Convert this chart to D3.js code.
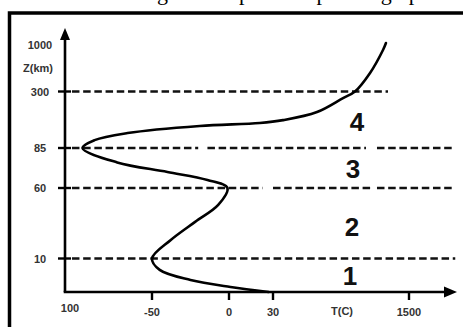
<!DOCTYPE html>
<html>
<head>
<meta charset="utf-8">
<script src="https://cdn.jsdelivr.net/npm/d3@7"></script>
<style>
	body { margin: 0; background: #fff; }
	svg { display: block; }
</style>
</head>
<body>
<svg id="chartSVG"></svg>
<script>
var svgDimensions = { width: 463, height: 327 };

// altitude axis (km) is drawn piecewise, so keep its ticks and positions together
var altTicks = [0, 10, 60, 85, 300, 1000];
var altLabels = ['', '10', '60', '85', '300', '1000'];
var tempTicks = [-100, -50, 0, 30, 1500];
var tempLabels = ['100', '-50', '0', '30', '1500'];

// temperature profile
var profileTemp = [27, 1, -25, -45, -50, -38, -22, -7, -1, -14, -40, -70, -90, -83, -64, -19, 21, 138, 506, 787, 916, 1079, 1219, 1251];
var profileAlt = [0, 1.5, 3.6, 6.6, 10, 23, 36, 48, 60, 65, 70, 76, 85, 115, 142, 169, 180, 191, 222, 275, 300, 579, 925, 1030];

// layer boundaries and the pieces of each dashed line
var boundaryAlt = [10, 60, 85, 300];
var boundarySegments = [
	[[-96, 2000]],
	[[-96, 23], [30, 1100], [1154, 2000]],
	[[-96, -20], [-14, 1035], [1154, 2000]],
	[[-96, 1273]]
];

var layerNames = ['1', '2', '3', '4'];
var layerTemp = [862, 884, 895, 938];
var layerAlt = [2.1, 26, 66, 150];

var svg = d3.select('#chartSVG')
	.attr('width', svgDimensions.width)
	.attr('height', svgDimensions.height);

var x = d3.scaleLinear()
	.domain(tempTicks)
	.range([65, 152, 229, 273, 409]);

var y = d3.scaleLinear()
	.domain(altTicks)
	.range([292, 258.5, 188, 148, 91.5, 45]);

// caption of the page above, only its descenders are in view
svg.append('text')
	.attr('x', 140)
	.attr('y', 0)
	.attr('font-family', 'Liberation Serif')
	.attr('font-size', '22px')
	.attr('fill', '#000')
	.text('ing the temperature profile graph');

// frame
svg.append('path')
	.attr('d', 'M9.5,' + svgDimensions.height + 'V13H' + svgDimensions.width)
	.attr('fill', 'none')
	.attr('stroke', '#000')
	.attr('stroke-width', 3.5);

// dashed layer boundaries
var bounds = svg.append('g').attr('id', 'bounds');
boundaryAlt.forEach(function(z, i) {
	boundarySegments[i].forEach(function(seg) {
		bounds.append('line')
			.attr('x1', x(seg[0]))
			.attr('x2', x(seg[1]))
			.attr('y1', y(z))
			.attr('y2', y(z))
			.attr('stroke', '#111')
			.attr('stroke-width', 2.4)
			.attr('stroke-dasharray', '7.5,3.7');
	});
});

// axes
var axisG = svg.append('g').attr('id', 'axes');
axisG.append('line')
	.attr('x1', x(-100)).attr('x2', x(-100))
	.attr('y1', y(0)).attr('y2', 38)
	.attr('stroke', '#000').attr('stroke-width', 2.6);
axisG.append('path')
	.attr('d', 'M' + x(-100) + ',28l-5,12h10z')
	.attr('fill', '#000');
axisG.append('line')
	.attr('x1', x(-100) - 1.3).attr('x2', 446)
	.attr('y1', y(0)).attr('y2', y(0))
	.attr('stroke', '#000').attr('stroke-width', 2.6);
axisG.append('path')
	.attr('d', 'M457,' + y(0) + 'l-13,-5.5v11z')
	.attr('fill', '#000');

// y ticks
axisG.selectAll('.ytick')
	.data(boundaryAlt)
	.enter().append('line')
	.attr('class', 'ytick')
	.attr('x1', x(-100) - 7).attr('x2', x(-100) + 6)
	.attr('y1', function(d) { return y(d); })
	.attr('y2', function(d) { return y(d); })
	.attr('stroke', '#000').attr('stroke-width', 2.4);

axisG.selectAll('.ylabel')
	.data(altTicks.slice(1))
	.enter().append('text')
	.attr('class', 'ylabel')
	.attr('x', 40)
	.attr('y', function(d) { return y(d) + 4; })
	.attr('text-anchor', 'middle')
	.attr('font-family', 'Liberation Sans')
	.attr('font-weight', 'bold')
	.attr('font-size', '11px')
	.attr('fill', '#333')
	.text(function(d, i) { return altLabels[i + 1]; });

axisG.append('text')
	.attr('x', 38)
	.attr('y', 72)
	.attr('text-anchor', 'middle')
	.attr('font-family', 'Liberation Sans')
	.attr('font-weight', 'bold')
	.attr('font-size', '11px')
	.attr('fill', '#333')
	.text('Z(km)');

// x ticks
axisG.selectAll('.xtick')
	.data(tempTicks.slice(1))
	.enter().append('line')
	.attr('class', 'xtick')
	.attr('x1', function(d) { return x(d); })
	.attr('x2', function(d) { return x(d); })
	.attr('y1', y(0)).attr('y2', y(0) + 8)
	.attr('stroke', '#000').attr('stroke-width', 2.4);

axisG.selectAll('.xlabel')
	.data(tempTicks)
	.enter().append('text')
	.attr('class', 'xlabel')
	.attr('x', function(d, i) { return i === 0 ? x(d) + 5 : x(d); })
	.attr('y', function(d, i) { return i === 0 ? 312 : 316; })
	.attr('text-anchor', 'middle')
	.attr('font-family', 'Liberation Sans')
	.attr('font-weight', 'bold')
	.attr('font-size', '11px')
	.attr('fill', '#333')
	.text(function(d, i) { return tempLabels[i]; });

axisG.append('text')
	.attr('x', 342)
	.attr('y', 315)
	.attr('text-anchor', 'middle')
	.attr('font-family', 'Liberation Sans')
	.attr('font-weight', 'bold')
	.attr('font-size', '11px')
	.attr('fill', '#333')
	.text('T(C)');

// profile curve
var profile = profileTemp.map(function(t, i) { return [t, profileAlt[i]]; });
var line = d3.line()
	.x(function(d) { return x(d[0]); })
	.y(function(d) { return y(d[1]); })
	.curve(d3.curveCatmullRom.alpha(0.5));

svg.append('path')
	.datum(profile)
	.attr('d', line)
	.attr('fill', 'none')
	.attr('stroke', '#000')
	.attr('stroke-width', 2.6)
	.attr('stroke-linecap', 'round');

// layer numbers
svg.selectAll('.layer')
	.data(layerNames)
	.enter().append('text')
	.attr('class', 'layer')
	.attr('x', function(d, i) { return x(layerTemp[i]); })
	.attr('y', function(d, i) { return y(layerAlt[i]); })
	.attr('text-anchor', 'middle')
	.attr('font-family', 'Liberation Sans')
	.attr('font-weight', 'bold')
	.attr('font-size', '26px')
	.attr('fill', '#111')
	.text(function(d) { return d; });
</script>
</body>
</html>
